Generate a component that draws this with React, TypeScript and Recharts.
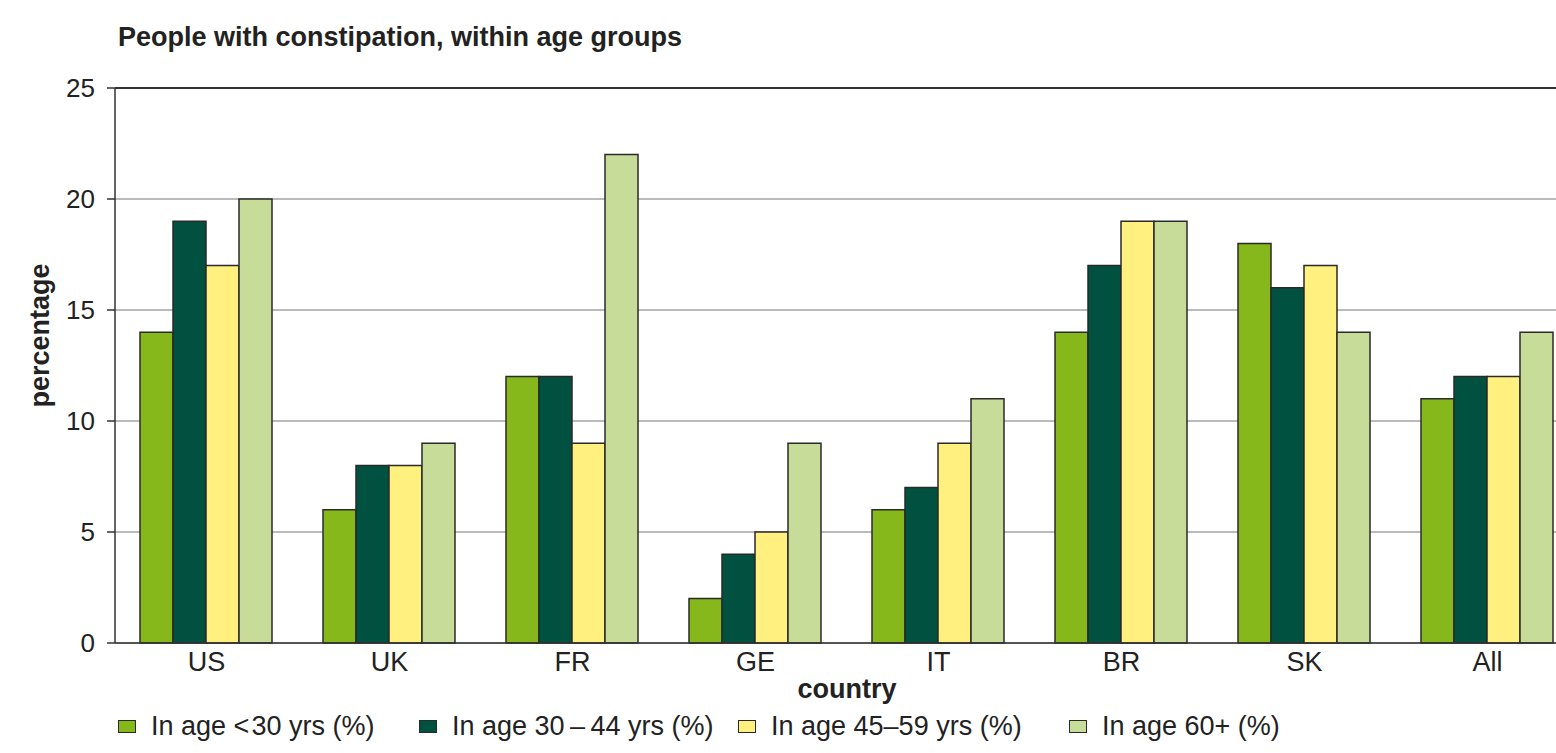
import React from 'react';
import {
  Bar,
  BarChart,
  CartesianGrid,
  ReferenceLine,
  XAxis,
  YAxis,
} from 'recharts';

const countries = ['US', 'UK', 'FR', 'GE', 'IT', 'BR', 'SK', 'All'];

const under30 = [14, 6, 12, 2, 6, 14, 18, 11];
const age30to44 = [19, 8, 12, 4, 7, 17, 16, 12];
const age45to59 = [17, 8, 9, 5, 9, 19, 17, 12];
const age60plus = [20, 9, 22, 9, 11, 19, 14, 14];

const yTicks = [0, 5, 10, 15, 20, 25];
const boundaryTicks = [0, 1, 2, 3, 4, 5, 6, 7, 8];

const series = [
  { key: 'under30', name: 'In age <\u200a30 yrs (%)', color: '#86b81b', values: under30 },
  { key: 'age30to44', name: 'In age 30\u2009\u2013\u200944 yrs (%)', color: '#00513f', values: age30to44 },
  { key: 'age45to59', name: 'In age 45\u201359 yrs (%)', color: '#fff07f', values: age45to59 },
  { key: 'age60plus', name: 'In age 60+ (%)', color: '#c8dc9a', values: age60plus },
];

// left edge of each legend entry
const legendLeft = [118, 419, 738, 1069];

const chartData = countries.map((country, i) => {
  const row: Record<string, string | number> = { country };
  series.forEach((s) => {
    row[s.key] = s.values[i];
  });
  return row;
});

const FONT = '"Liberation Sans", Arial, Helvetica, sans-serif';
const INK = '#222';

function YTitle({ viewBox }: any) {
  const cx = viewBox.x + 40;
  const cy = viewBox.y + viewBox.height / 2 - 30;
  return (
    <text
      x={cx}
      y={cy}
      transform={`rotate(-90, ${cx}, ${cy})`}
      textAnchor="middle"
      dominantBaseline="central"
      fontSize={27}
      fontWeight={700}
      fill={INK}
      fontFamily={FONT}
    >
      percentage
    </text>
  );
}

export default function App() {
  return (
    <div
      style={{
        position: 'fixed',
        left: 0,
        top: 0,
        width: 1556,
        height: 753,
        overflow: 'hidden',
        background: '#fff',
        fontFamily: FONT,
        color: INK,
      }}
    >
      <div
        style={{
          position: 'absolute',
          left: 118,
          top: 22,
          fontSize: 27,
          fontWeight: 700,
        }}
      >
        People with constipation, within age groups
      </div>

      <BarChart
        width={1579}
        height={753}
        data={chartData}
        margin={{ top: 88, right: 0, left: 0, bottom: 40 }}
        barCategoryGap={25}
        barGap={0}
      >
        <CartesianGrid vertical={false} stroke="#777" strokeWidth={1} />
        {/* boundary ticks between countries */}
        <XAxis
          xAxisId="edges"
          type="number"
          domain={[0, 8]}
          ticks={boundaryTicks}
          height={0}
          tick={false}
          tickSize={5}
          tickLine={{ stroke: '#333', strokeWidth: 1.5 }}
          axisLine={false}
          allowDataOverflow
        />
        <XAxis
          dataKey="country"
          height={70}
          tickLine={false}
          tickSize={0}
          tickMargin={9}
          axisLine={{ stroke: '#333', strokeWidth: 1.5 }}
          tick={{ fontSize: 27, fill: INK, fontFamily: FONT }}
          interval={0}
          label={{
            value: 'country',
            position: 'insideBottom',
            offset: 15,
            fontSize: 27,
            fontWeight: 700,
            fill: INK,
            fontFamily: FONT,
          }}
        />
        <YAxis
          width={115}
          domain={[0, 25]}
          ticks={yTicks}
          tickSize={8}
          tickMargin={12}
          tickLine={{ stroke: '#333', strokeWidth: 1.5 }}
          axisLine={{ stroke: '#333', strokeWidth: 1.5 }}
          tick={{ fontSize: 26, fill: INK, fontFamily: FONT }}
          label={{ content: YTitle }}
        />
        <ReferenceLine y={25} stroke="#333" strokeWidth={2} />
        {series.map((s) => (
          <Bar
            key={s.key}
            dataKey={s.key}
            name={s.name}
            fill={s.color}
            stroke="#2a2a2a"
            strokeWidth={1.5}
            isAnimationActive={false}
          />
        ))}
      </BarChart>

      {series.map((s, i) => (
        <div
          key={s.key}
          style={{
            position: 'absolute',
            left: legendLeft[i],
            top: 711,
            display: 'flex',
            alignItems: 'center',
            fontSize: 27,
            whiteSpace: 'nowrap',
          }}
        >
          <span
            style={{
              display: 'inline-block',
              width: 16,
              height: 11,
              background: s.color,
              border: '1.5px solid #2a2a2a',
              marginRight: 15,
            }}
          />
          <span>{s.name}</span>
        </div>
      ))}
    </div>
  );
}
